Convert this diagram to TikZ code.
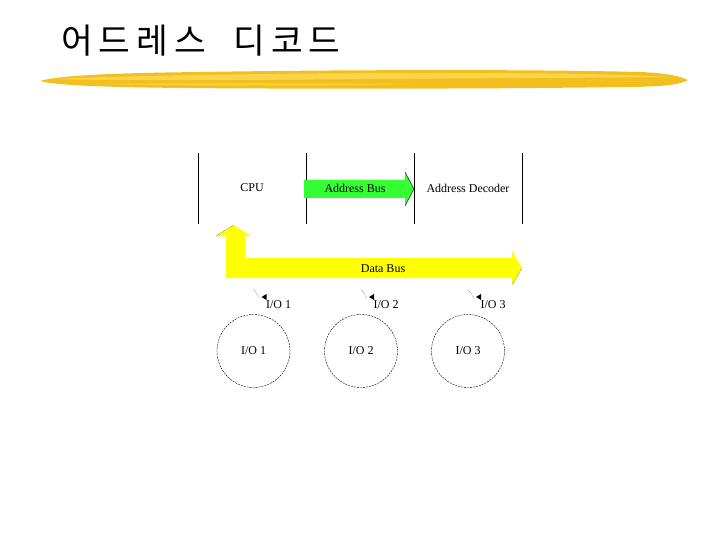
\documentclass[tikz,border=0pt]{standalone}
\usepackage{fontspec}
\setmainfont{Liberation Serif}
\newfontfamily\krfont[LetterSpace=17]{Noto Sans CJK KR}
\usetikzlibrary{calc}
\definecolor{BrushClr}{rgb}{0.95,0.75,0.12}
\definecolor{BrushLight}{rgb}{0.99,0.86,0.33}
\definecolor{AddrClr}{rgb}{0.2,1,0.2}
\definecolor{DataClr}{rgb}{1,1,0}
\tikzset{
  lbl/.style={inner sep=1pt,font=\fontsize{12}{14}\selectfont},
  iocircle/.style={circle,draw,dashed,dash pattern=on 2pt off 1pt,minimum size=73pt,inner sep=0pt,font=\fontsize{12}{14}\selectfont},
  divline/.style={line width=1pt},
}

\begin{document}
\begin{tikzpicture}[x=1pt,y=-1pt]
\useasboundingbox[fill=white] (0,0) rectangle (720,540);

% title
\node[anchor=west,inner sep=0pt,font=\krfont\fontsize{34.5}{40}\selectfont] (title) at (61,41) {어드레스\hspace{28pt}디코드};

% brush stroke under the title
\fill[BrushClr] (40,81) .. controls (60,75) and (120,73) .. (200,72)
  .. controls (320,70) and (520,69) .. (640,72)
  .. controls (665,73) and (680,76) .. (688,80)
  .. controls (680,85) and (660,87) .. (620,87)
  .. controls (500,89) and (300,89) .. (180,88)
  .. controls (110,87) and (60,86) .. (40,81) -- cycle;
\fill[BrushLight,opacity=.8] (50,79) .. controls (150,75) and (300,73) .. (440,73)
  .. controls (540,73) and (620,74) .. (675,77)
  .. controls (600,78) and (480,78) .. (380,79)
  .. controls (250,80) and (130,81) .. (50,79) -- cycle;
\fill[BrushLight,opacity=.6] (90,84) .. controls (200,83) and (320,83) .. (420,84)
  .. controls (320,86) and (200,86) .. (90,84) -- cycle;

% dividing lines
\foreach \x in {198,306,414,522}
  \draw[divline] (\x,153) -- (\x,224);

% address bus
\fill[AddrClr] (304,180) -- (405,180) -- (405,172) -- (414,189) -- (405,206)
  -- (405,198) -- (304,198) -- cycle;
\draw[thin] (405,172) -- (414,189) -- (405,206);

% data bus
\fill[DataClr] (233.5,225) -- (251,236) -- (245,236) -- (245,258) -- (512,258)
  -- (512,251) -- (522,268) -- (512,285) -- (512,278) -- (226,278) -- (226,236)
  -- (216,236) -- cycle;
\draw[densely dotted,thin] (216,236) -- (233.5,225);
\draw[densely dotted,thin] (522,268) -- (512,285);

\node[lbl] (cpu) at (252,188) {CPU};
\node[lbl] (abus) at (355,188) {Address Bus};
\node[lbl] (adec) at (468,188) {Address Decoder};
\node[lbl] (dbus) at (383,269) {Data Bus};

% I/O devices
\foreach \i/\x in {1/253.5,2/361,3/468}{
  \node[iocircle] (io\i) at (\x,351) {I/O \i};
  \node[lbl] (iol\i) at (\x+25,305) {I/O \i};
  \coordinate (iot\i) at (\x,289);
  \draw[densely dotted,thin] (iot\i) -- ++(6,9);
  \fill (\x+8,297) -- (\x+13,294) -- (\x+13,300) -- cycle;
}

\end{tikzpicture}
\end{document}
